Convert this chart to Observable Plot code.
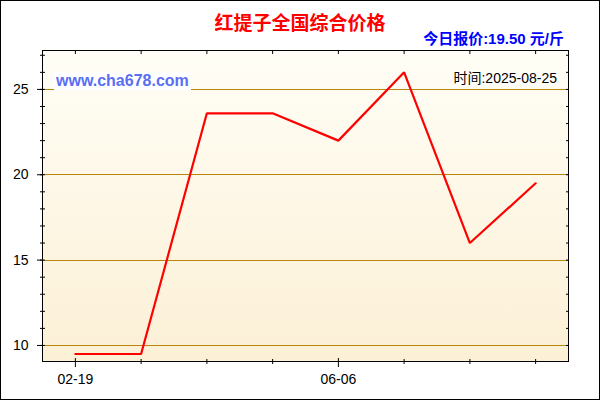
<!DOCTYPE html>
<html>
<head>
<meta charset="utf-8">
<script src="https://cdn.jsdelivr.net/npm/d3@7"></script>
<script src="https://cdn.jsdelivr.net/npm/@observablehq/plot@0.6"></script>
<style>
  body { margin: 0; background: #fff; }
  #wrap { position: relative; width: 600px; height: 400px; overflow: hidden; background: #fff;
          font-family: "Liberation Sans", Arial, "Noto Sans CJK SC", sans-serif; }
  #chart svg { position: absolute; left: 0; top: 0; }
  .ov { position: absolute; white-space: nowrap; line-height: 1; }
  #title { left: 0; width: 600px; text-align: center; top: 12px; font-size: 19px; font-weight: bold;
           color: #ff0000; font-family: "Noto Sans CJK SC", sans-serif; }
  #sub { right: 36px; top: 31px; font-size: 15px; font-weight: bold; color: #0000ff;
         font-family: "Liberation Sans", Arial, "Noto Sans CJK SC", sans-serif; }
  #wm { left: 54px; top: 72px; height: 18px; line-height: 18px; padding: 0 2px; background: #fff;
        font-size: 16px; font-weight: bold; color: #5a6ef2; }
  #time { right: 43px; top: 71px; font-size: 14px; color: #000; background: rgba(255,255,255,0.6);
          font-family: "Liberation Sans", Arial, "Noto Sans CJK SC", sans-serif; }
  #border { position: absolute; left: 0; top: 0; width: 600px; height: 400px; border: 1px solid #000;
            box-sizing: border-box; pointer-events: none; }
</style>
</head>
<body>
<div id="wrap">
  <div id="chart"></div>
  <div class="ov" id="title"></div>
  <div class="ov" id="sub"></div>
  <div class="ov" id="wm"></div>
  <div class="ov" id="time"></div>
  <div id="border"></div>
</div>
<script>
// ---- data ----
const titleText = "红提子全国综合价格";
const subtitleText = "今日报价:19.50 元/斤";
const watermarkText = "www.cha678.com";
const timeText = "时间:2025-08-25";

const pointIndex = [0, 1, 2, 3, 4, 5, 6, 7];
const prices = [9.5, 9.5, 23.6, 23.6, 22.0, 26.0, 16.0, 19.5];

const xLabelIndex = [0, 4];
const xLabels = ["02-19", "06-06"];
const xMinorIndex = [1, 2, 3, 5, 6, 7];

const yMajorTicks = [10, 15, 20, 25];
const yMinorTicks = [10, 11, 12, 13, 14, 15, 16, 17, 18, 19, 20, 21, 22, 23, 24, 25, 26, 27];

// ---- text ----
document.getElementById("title").textContent = titleText;
document.getElementById("sub").textContent = subtitleText;
document.getElementById("wm").textContent = watermarkText;
document.getElementById("time").textContent = timeText;

const series = pointIndex.map((d, i) => ({ idx: d, price: prices[i] }));

const chart = Plot.plot({
  width: 600,
  height: 400,
  marginTop: 50,
  marginRight: 32,
  marginBottom: 39,
  marginLeft: 42,
  style: { background: "transparent", fontFamily: "Liberation Sans, Arial, sans-serif", fontSize: "14px", color: "#000" },
  x: { type: "linear", domain: [-0.5, 7.5] },
  y: { domain: [9.06, 27.28] },
  marks: [
    Plot.frame({ fill: "url(#bgGrad)", stroke: "none" }),
    Plot.ruleY(yMajorTicks, { stroke: "#b8860b", strokeWidth: 1, shapeRendering: "crispEdges" }),
    Plot.line(series, { x: d => d.idx, y: d => d.price, stroke: "#ff0000", strokeWidth: 2.2, strokeLinejoin: "miter" }),
    Plot.frame({ stroke: "#000", fill: "none", shapeRendering: "crispEdges" }),
    Plot.axisY({ anchor: "left", ticks: yMajorTicks, tickSize: 5, tickPadding: 9, label: null, fontSize: 14 }),
    Plot.axisY({ anchor: "left", ticks: yMinorTicks, tickSize: 5, dx: 3, fill: "none", label: null }),
    Plot.axisY({ anchor: "right", ticks: yMinorTicks, tickSize: 3, dx: -3, fill: "none", label: null }),
    Plot.axisX({ anchor: "top", ticks: pointIndex, tickSize: 3, dy: 3, fill: "none", label: null }),
    Plot.axisX({ anchor: "bottom", ticks: xLabelIndex, tickSize: 9, dy: -3, fill: "none", label: null }),
    Plot.axisX({ anchor: "bottom", ticks: xMinorIndex, tickSize: 5, dy: -2, fill: "none", label: null }),
    Plot.axisX({ anchor: "bottom", ticks: xLabelIndex, tickSize: 0, tickPadding: 13, label: null, fontSize: 14,
                 tickFormat: d => xLabels[xLabelIndex.indexOf(d)] })
  ]
});

const svg = d3.select(chart);
const grad = svg.insert("defs", ":first-child").append("linearGradient")
  .attr("id", "bgGrad").attr("x1", 0).attr("y1", 0).attr("x2", 0).attr("y2", 1);
grad.append("stop").attr("offset", "0%").attr("stop-color", "#fffef6");
grad.append("stop").attr("offset", "100%").attr("stop-color", "#fcf0d6");

document.getElementById("chart").appendChild(chart);
</script>
</body>
</html>
